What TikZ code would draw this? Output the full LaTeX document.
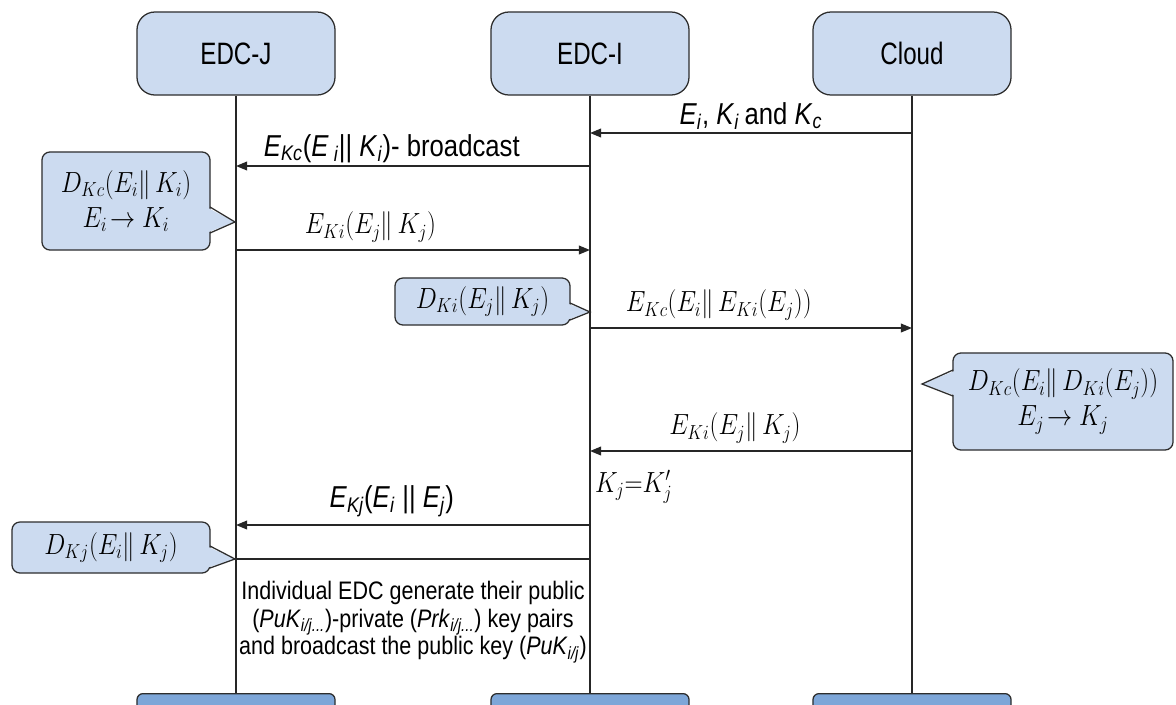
\documentclass[tikz,border=0pt]{standalone}
\usepackage{fontspec}
\usepackage{graphicx}
\usepackage{amsmath,amssymb}
\usetikzlibrary{arrows.meta,positioning,calc}

\newfontfamily\narrowsf[FakeStretch=0.85]{Liberation Sans}
\newfontfamily\headsf[FakeStretch=0.78]{Liberation Sans}

\definecolor{boxfill}{RGB}{204,219,240}
\definecolor{barfill}{RGB}{125,166,216}
\definecolor{edge}{RGB}{45,45,45}

\newcommand{\sfsub}[2]{\textit{#1}\textsubscript{\textit{#2}}}
\newcommand{\nmath}[1]{\scalebox{0.86}[1]{$#1$}}

\begin{document}
\begin{tikzpicture}[
  x=0.025cm, y=-0.025cm,
  actor/.style = {draw=edge, fill=boxfill, line width=0.9pt, rounded corners=0.45cm,
                  minimum width=4.95cm, minimum height=2.075cm,
                  font=\headsf\fontsize{22}{24}\selectfont},
  foot/.style  = {draw=edge, fill=barfill, line width=0.9pt, rounded corners=0.15cm,
                  minimum width=4.95cm, minimum height=1cm, anchor=north},
  life/.style  = {draw=black!85, line width=0.9pt},
  msg/.style   = {-{Triangle[length=0.28cm,width=0.22cm]}, line width=1.1pt, draw=black!85},
  note/.style  = {draw=edge, fill=boxfill, line width=0.9pt, rounded corners=0.2cm,
                  align=center, inner sep=0pt,
                  font=\fontsize{22}{23}\selectfont},
  tip/.style   = {draw=edge, line width=0.9pt},
  slbl/.style  = {font=\narrowsf\fontsize{21.5}{23}\selectfont, inner sep=2pt},
  mlbl/.style  = {font=\fontsize{21}{22}\selectfont, inner sep=2pt},
]
\useasboundingbox (0,0) rectangle (1176,704);

%% --- the three parties ---
\node[actor] (edcj)  at (236,53.5) {EDC-J};
\node[actor] (edci)  at (590,53.5) {EDC-I};
\node[actor] (cloud) at (912,53.5) {Cloud};

\node[foot] (footj) at (236,693) {};
\node[foot] (footi) at (590,693) {};
\node[foot] (footc) at (912,693) {};

\draw[life] (edcj)  -- (footj);
\draw[life] (edci)  -- (footi);
\draw[life] (cloud) -- (footc);

%% --- message points on the lifelines ---
\coordinate (m1c) at (cloud |- 0,133);  \coordinate (m1i) at (edci |- 0,133);
\coordinate (m2i) at (edci |- 0,166);   \coordinate (m2j) at (edcj |- 0,166);
\coordinate (m3j) at (edcj |- 0,250);   \coordinate (m3i) at (edci |- 0,250);
\coordinate (m4i) at (edci |- 0,328);   \coordinate (m4c) at (cloud |- 0,328);
\coordinate (m5c) at (cloud |- 0,451);  \coordinate (m5i) at (edci |- 0,451);
\coordinate (m6i) at (edci |- 0,525);   \coordinate (m6j) at (edcj |- 0,525);
\coordinate (m7i) at (edci |- 0,559);   \coordinate (m7j) at (edcj |- 0,559);

%% --- messages ---
\draw[msg] (m1c) -- node[slbl, above] (l1)
  {\sfsub{E}{i}, \sfsub{K}{i}\,and \sfsub{K}{c}} (m1i);
\draw[msg] (m2i) -- node[slbl, above, pos=0.56] (l2)
  {\sfsub{E}{Kc}(\textit{E}\,\textsubscript{\textit{i}}|| \sfsub{K}{i})- broadcast} (m2j);
\draw[msg] (m3j) -- node[mlbl, above=3pt, pos=0.38] (l3)
  {\nmath{E_{Ki}(E_j\|\,K_j)}} (m3i);
\draw[msg] (m4i) -- node[mlbl, above=3pt, pos=0.40] (l4)
  {\nmath{E_{Kc}(E_i\|\,E_{Ki}(E_j))}} (m4c);
\draw[msg] (m5c) -- node[mlbl, above=3pt, pos=0.55] (l5)
  {\nmath{E_{Ki}(E_j\|\,K_j)}} (m5i);
\draw[msg] (m6i) -- node[slbl, above=3pt, pos=0.56] (l6)
  {\sfsub{E}{Kj}(\sfsub{E}{i} || \sfsub{E}{j})} (m6j);
\draw[life, line width=1.1pt] (m7i) -- (m7j);

\node[mlbl, anchor=west] (kjeq) at (592,487) {\nmath{K_j{=}K_j'}};

%% --- callouts ---
\node[note, minimum width=4.2cm, minimum height=2.45cm] (dj1) at (126,201)
  {\nmath{D_{Kc}(E_i\|\,K_i)}\\[2pt]\nmath{E_i\!\rightarrow K_i}};
\fill[boxfill] (206,207) -- (235,222) -- (206,233) -- cycle;
\draw[tip] (210,207) -- (235,222) -- (210,233);

\node[note, minimum width=4.375cm, minimum height=1.175cm] (di1) at (482.5,301.5)
  {\nmath{D_{Ki}(E_j\|\,K_j)}};
\fill[boxfill] (566,303) -- (590,312) -- (566,320) -- cycle;
\draw[tip] (570,303) -- (590,312) -- (570,320);

\node[note, minimum width=5.5cm, minimum height=2.425cm] (dc1) at (1063,401.5)
  {\nmath{D_{Kc}(E_i\|\,D_{Ki}(E_j))}\\[2pt]\nmath{E_j\!\rightarrow K_j}};
\fill[boxfill] (957,370) -- (922,384) -- (957,396) -- cycle;
\draw[tip] (953,370) -- (922,384) -- (953,396);

\node[note, minimum width=4.95cm, minimum height=1.275cm] (dj2) at (111,547.5)
  {\nmath{D_{Kj}(E_i\|\,K_j)}};
\fill[boxfill] (206,546) -- (235,559) -- (206,568) -- cycle;
\draw[tip] (210,546) -- (235,559) -- (210,568);

%% --- key pair note ---
\node[align=center, inner sep=0pt, font=\narrowsf\fontsize{18}{19.6}\selectfont] (keys) at (413,622)
  {Individual EDC generate their public\\
   (\sfsub{PuK}{i/j...})-private (\sfsub{Prk}{i/j...}) key pairs\\
   and broadcast the public key (\sfsub{PuK}{i/j})};
\end{tikzpicture}
\end{document}
